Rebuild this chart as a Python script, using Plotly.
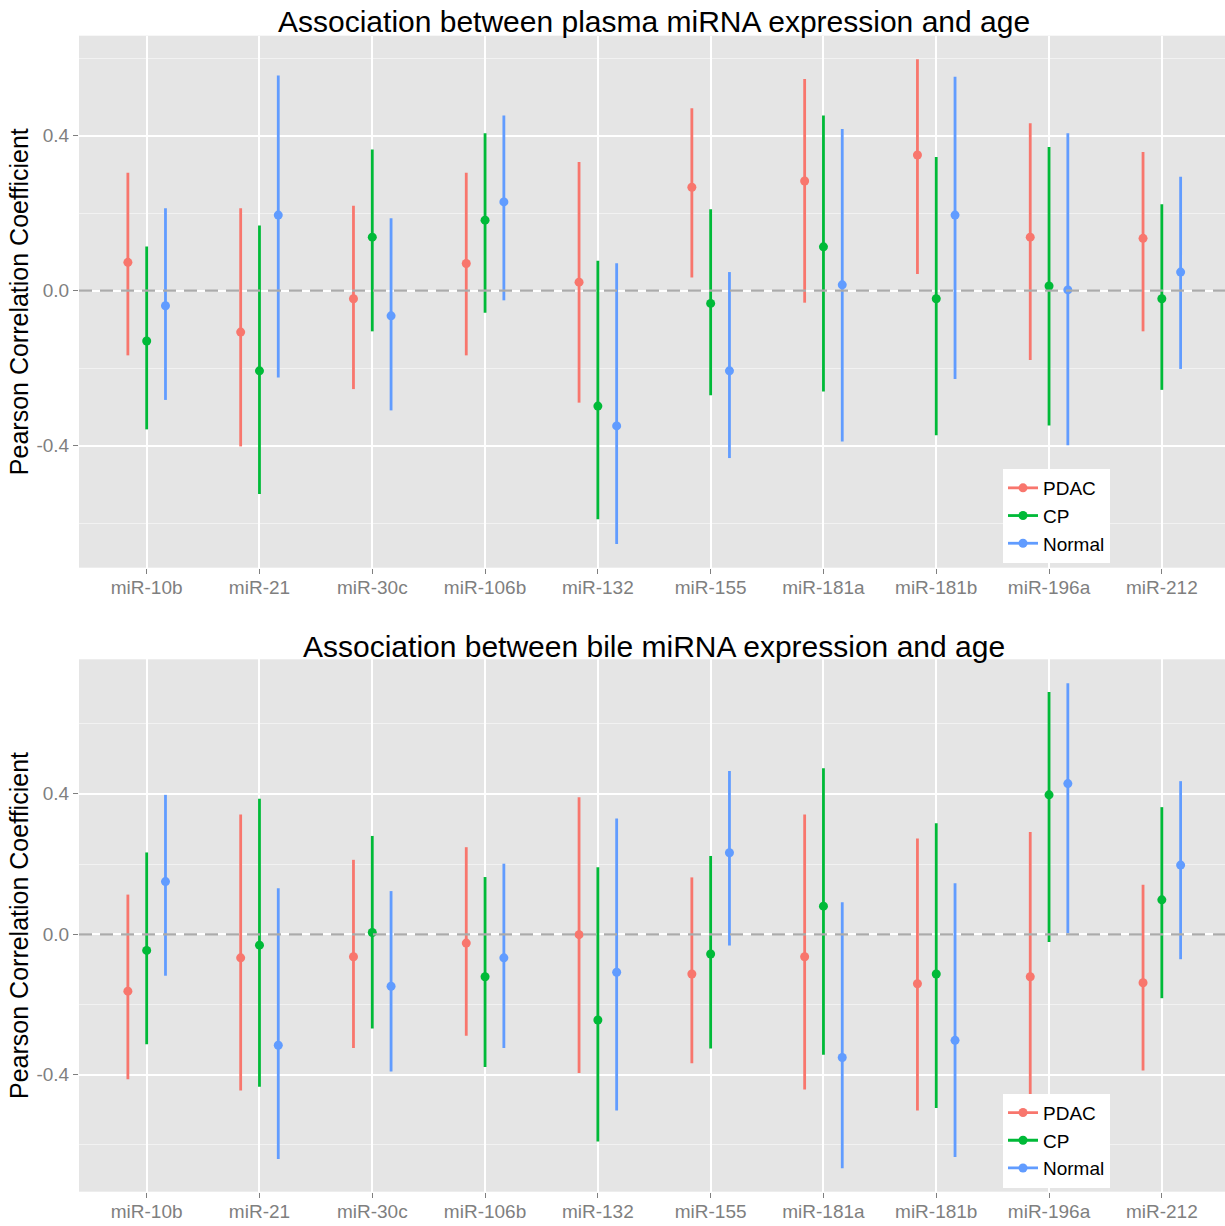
import plotly.graph_objects as go

categories = ["miR-10b", "miR-21", "miR-30c", "miR-106b", "miR-132",
              "miR-155", "miR-181a", "miR-181b", "miR-196a", "miR-212"]
groups = ["PDAC", "CP", "Normal"]

# Plasma panel: correlation estimate, lower and upper CI
plasma_pdac_r = [0.073, -0.107, -0.021, 0.070, 0.022, 0.267, 0.283, 0.350, 0.138, 0.135]
plasma_pdac_lo = [-0.167, -0.402, -0.254, -0.167, -0.289, 0.034, -0.031, 0.043, -0.179, -0.105]
plasma_pdac_hi = [0.304, 0.213, 0.219, 0.304, 0.332, 0.471, 0.546, 0.597, 0.432, 0.358]
plasma_cp_r = [-0.130, -0.207, 0.138, 0.182, -0.298, -0.033, 0.113, -0.021, 0.012, -0.021]
plasma_cp_lo = [-0.358, -0.525, -0.105, -0.057, -0.590, -0.270, -0.260, -0.373, -0.348, -0.256]
plasma_cp_hi = [0.114, 0.168, 0.364, 0.406, 0.077, 0.210, 0.452, 0.345, 0.371, 0.223]
plasma_normal_r = [-0.039, 0.195, -0.065, 0.229, -0.349, -0.207, 0.015, 0.195, 0.002, 0.048]
plasma_normal_lo = [-0.282, -0.224, -0.309, -0.025, -0.654, -0.432, -0.389, -0.228, -0.399, -0.202]
plasma_normal_hi = [0.213, 0.555, 0.187, 0.452, 0.071, 0.048, 0.417, 0.552, 0.406, 0.294]

# Bile panel
bile_pdac_r = [-0.162, -0.067, -0.064, -0.025, -0.001, -0.113, -0.064, -0.141, -0.121, -0.138]
bile_pdac_lo = [-0.413, -0.445, -0.324, -0.289, -0.395, -0.367, -0.442, -0.502, -0.520, -0.388]
bile_pdac_hi = [0.113, 0.341, 0.212, 0.248, 0.390, 0.162, 0.341, 0.273, 0.291, 0.141]
bile_cp_r = [-0.046, -0.031, 0.005, -0.121, -0.244, -0.056, 0.080, -0.113, 0.397, 0.098]
bile_cp_lo = [-0.313, -0.434, -0.268, -0.378, -0.590, -0.325, -0.343, -0.495, -0.022, -0.182]
bile_cp_hi = [0.233, 0.386, 0.280, 0.163, 0.191, 0.223, 0.473, 0.316, 0.690, 0.362]
bile_normal_r = [0.150, -0.316, -0.148, -0.067, -0.108, 0.232, -0.351, -0.302, 0.429, 0.197]
bile_normal_lo = [-0.118, -0.640, -0.391, -0.324, -0.502, -0.032, -0.666, -0.634, 0.003, -0.071]
bile_normal_hi = [0.397, 0.131, 0.123, 0.201, 0.330, 0.465, 0.091, 0.145, 0.715, 0.436]

y_ticks = [-0.4, 0.0, 0.4]
y_ticktext = ["-0.4", "0.0", "0.4"]
y_minor = [-0.6, -0.2, 0.2, 0.6]

colors = {"PDAC": "#F8766D", "CP": "#00BA38", "Normal": "#619CFF"}
dodge = {"PDAC": -1 / 6, "CP": 0.0, "Normal": 1 / 6}
FONT = "Liberation Sans, Arial, sans-serif"

panels = [
    ("x", "y", "legend", {
        "PDAC": (plasma_pdac_r, plasma_pdac_lo, plasma_pdac_hi),
        "CP": (plasma_cp_r, plasma_cp_lo, plasma_cp_hi),
        "Normal": (plasma_normal_r, plasma_normal_lo, plasma_normal_hi)}),
    ("x2", "y2", "legend2", {
        "PDAC": (bile_pdac_r, bile_pdac_lo, bile_pdac_hi),
        "CP": (bile_cp_r, bile_cp_lo, bile_cp_hi),
        "Normal": (bile_normal_r, bile_normal_lo, bile_normal_hi)}),
]

fig = go.Figure()
for xa, ya, leg, data in panels:
    for g in groups:
        r, lo, hi = data[g]
        xs = [i + dodge[g] for i in range(len(categories))]
        fig.add_trace(go.Scatter(
            x=xs, y=r, xaxis=xa, yaxis=ya, mode="markers", name=g,
            marker=dict(color=colors[g], size=9),
            error_y=dict(type="data", symmetric=False,
                         array=[h - v for h, v in zip(hi, r)],
                         arrayminus=[v - l for l, v in zip(lo, r)],
                         color=colors[g], thickness=2.8, width=0),
            showlegend=False, hoverinfo="x+y"))
    for g in groups:
        fig.add_trace(go.Scatter(
            x=[None], y=[None], xaxis=xa, yaxis=ya, mode="lines+markers", name=g,
            marker=dict(color=colors[g], size=9), line=dict(color=colors[g], width=2.8),
            legend=leg, showlegend=True))
    # dashed zero reference line
    fig.add_shape(type="line", xref=f"{xa} domain", yref=ya, x0=0, x1=1, y0=0, y1=0,
                  line=dict(color="#ABABAB", width=2.3, dash="13px,8px"), layer="above")

W, H = 1225, 1226
top_dom = [1 - 567.7 / H, 1 - 35.7 / H]
bot_dom = [1 - 1191.7 / H, 1 - 659.3 / H]

xaxis_common = dict(
    range=[-0.6, 9.56], tickvals=list(range(len(categories))), ticktext=categories,
    showgrid=True, gridcolor="white", gridwidth=1.6, zeroline=False,
    ticks="outside", ticklen=5, tickcolor="#7F7F7F", tickwidth=1, ticklabelstandoff=-3,
    tickfont=dict(family=FONT, size=19, color="#7F7F7F"), showline=False, fixedrange=True)
yaxis_common = dict(
    tickvals=y_ticks, ticktext=y_ticktext, showgrid=True, gridcolor="white", gridwidth=1.6,
    zeroline=False, ticks="outside", ticklen=5, tickcolor="#7F7F7F", tickwidth=1,
    tickfont=dict(family=FONT, size=19, color="#7F7F7F"),
    minor=dict(tickvals=y_minor, showgrid=True, gridcolor="#F2F2F2", gridwidth=0.8, ticks=""),
    title=dict(text="Pearson Correlation Coefficient", font=dict(family=FONT, size=25, color="black"),
               standoff=0),
    showline=False)

leg_x = (1003 - 79) / (W - 79)
fig.update_layout(
    width=W, height=H, margin=dict(l=79, r=0, t=0, b=0),
    paper_bgcolor="white", plot_bgcolor="#E5E5E5",
    xaxis=dict(domain=[0, 1], anchor="y", **xaxis_common),
    yaxis=dict(domain=top_dom, anchor="x", range=[-0.715, 0.658], **yaxis_common),
    xaxis2=dict(domain=[0, 1], anchor="y2", **xaxis_common),
    yaxis2=dict(domain=bot_dom, anchor="x2", range=[-0.733, 0.783], **yaxis_common),
    legend=dict(x=leg_x, y=1 - 469 / H, xanchor="left", yanchor="top",
                bgcolor="white", font=dict(family=FONT, size=19, color="black"),
                itemwidth=30, tracegroupgap=0),
    legend2=dict(x=leg_x, y=1 - 1093.7 / H, xanchor="left", yanchor="top",
                 bgcolor="white", font=dict(family=FONT, size=19, color="black"),
                 itemwidth=30, tracegroupgap=0),
    showlegend=True,
    annotations=[
        dict(text="Association between plasma miRNA expression and age", xref="x", yref="paper",
             x=4.5, y=1 - 22 / H, xanchor="center", yanchor="middle", showarrow=False,
             font=dict(family=FONT, size=30, color="black")),
        dict(text="Association between bile miRNA expression and age", xref="x2", yref="paper",
             x=4.5, y=1 - 646 / H, xanchor="center", yanchor="middle", showarrow=False,
             font=dict(family=FONT, size=30, color="black")),
    ],
)

fig.write_html("out.html")
